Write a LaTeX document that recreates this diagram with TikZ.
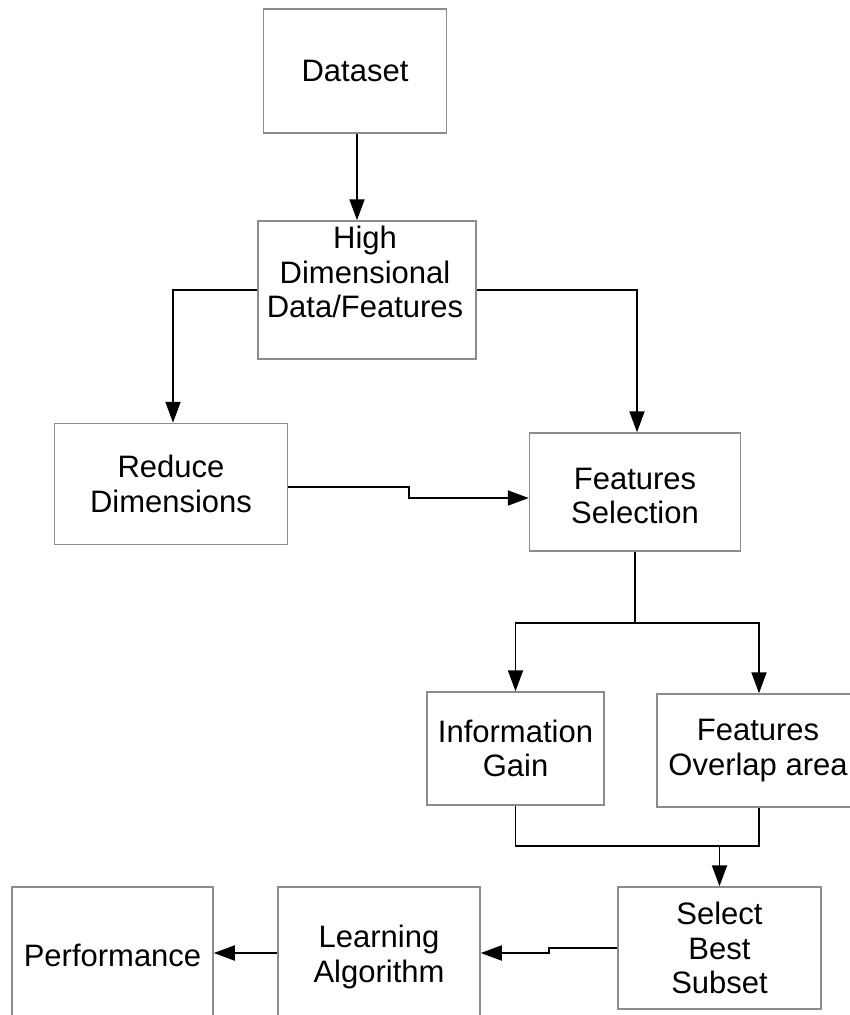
\documentclass[tikz,border=0pt]{standalone}
\usepackage{fontspec}
\setmainfont{Liberation Sans}
\usetikzlibrary{arrows.meta,calc}
\begin{document}
\begin{tikzpicture}[x=1pt,y=-1pt,
  box/.style={draw=boxgray, line width=1.5pt, fill=white, inner sep=0pt,
    align=center, font=\fontsize{31}{34.5}\selectfont},
  lbl/.style={inner sep=0pt, align=center, font=\fontsize{31}{34.5}\selectfont},
  conn/.style={line width=1.9pt, black},
  arr/.style={conn, -{Triangle[length=21pt,width=15pt]}}]
\definecolor{boxgray}{HTML}{8C8C8C}
\clip (0,0) rectangle (850,1015);
\fill[white] (0,0) rectangle (850,1015);

% boxes
\node[box, minimum width=183, minimum height=124] (dataset) at (355,71) {Dataset};
\node[box, minimum width=218, minimum height=138] (high) at (367,290) {};
\node[lbl] (hightxt) at (365,272) {High\\Dimensional\\Data/Features};
\node[box, minimum width=233, minimum height=121] (reduce) at (171,484) {Reduce\\Dimensions};
\node[box, minimum width=211, minimum height=118] (fsel) at (635,492) {};
\node[lbl] (fseltxt) at (635,496) {Features\\Selection};
\node[box, minimum width=177, minimum height=113] (info) at (515.5,748.5) {Information\\Gain};
\node[box, minimum width=202, minimum height=113] (overlap) at (758,750.5) {Features\\Overlap area};
\node[box, minimum width=203, minimum height=122] (select) at (719.5,948) {Select\\Best\\Subset};
\node[box, minimum width=202, minimum height=140] (learn) at (379,957) {Learning\\Algorithm};
\node[box, minimum width=201, minimum height=136] (perf) at (112.5,955) {Performance};

% connectors (y axis points down, so a negative yshift moves a point down)
\draw[arr] ([xshift=2pt]dataset.south) -- ([xshift=2pt]dataset.south |- high.north);
\draw[arr] (high.west) -| ([xshift=2pt]reduce.north);
\draw[arr] (high.east) -| ([xshift=2pt]fsel.north);
\draw[arr] ([yshift=-3pt]reduce.east) -- ++(121,0) coordinate (rstep) |- ([yshift=-6pt]fsel.west);

\draw[conn] (fsel.south) -- ++(0,71) coordinate (split);
\draw[arr] (split) -| (info.north);
\draw[arr] (split) -| ([xshift=1pt]overlap.north);

\coordinate (join) at ($(select.north)+(0,-40)$);
\draw[conn] (info.south) |- (join) -| ([xshift=1pt]overlap.south);
\draw[arr] (join) -- (select.north);

\draw[arr] (select.west) -- ++(-68,0) coordinate (sstep) |- ([yshift=4pt]learn.east);
\draw[arr] ([yshift=4pt]learn.west) -- ([yshift=4pt]learn.west -| perf.east);
\end{tikzpicture}
\end{document}
